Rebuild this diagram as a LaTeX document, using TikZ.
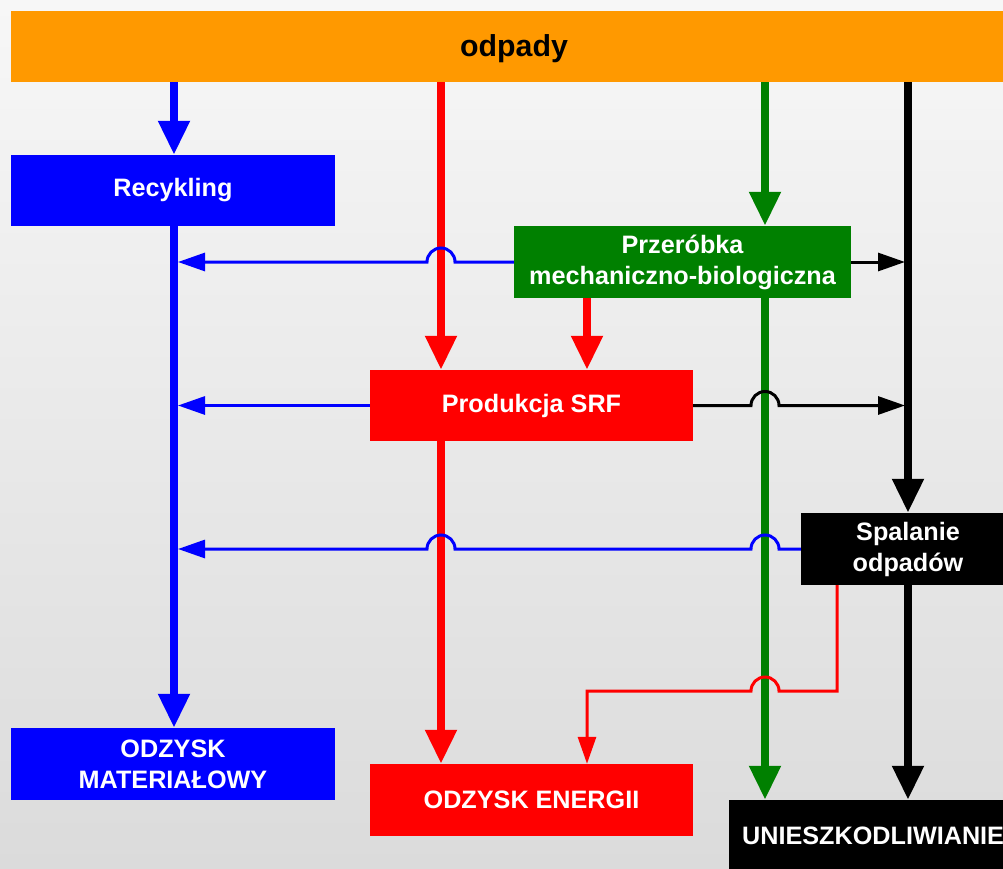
\documentclass[tikz,border=0pt]{standalone}
\usepackage{fontspec}
\setmainfont{Liberation Sans}
\usetikzlibrary{arrows.meta}
\definecolor{corange}{HTML}{FF9900}
\definecolor{cblue}{HTML}{0000FF}
\definecolor{cred}{HTML}{FF0000}
\definecolor{cgreen}{HTML}{008000}
\definecolor{bgtop}{HTML}{F7F7F7}
\definecolor{bgbot}{HTML}{DBDBDB}
\begin{document}
\begin{tikzpicture}[x=1pt,y=-1pt,
  box/.style={rectangle, inner sep=0pt, text=white, font=\fontsize{25.2}{31}\selectfont\bfseries, align=center},
  fat/.style={line width=8pt, -{Triangle[length=34pt,width=30pt]}},
  thinarr/.style={line width=3pt, -{Triangle[length=27pt,width=18pt]}}]
\useasboundingbox (0,0) rectangle (1003,869);
\shade[top color=bgtop, bottom color=bgbot] (0,0) rectangle (1003,869);
\begin{scope}
\clip (0,0) rectangle (1003,869);
% coordinates
\coordinate (xB) at (174,0);
\coordinate (bB) at (178,0);
\coordinate (xR) at (441,0);
\coordinate (xR2) at (587,0);
\coordinate (xG) at (765,0);
\coordinate (xK) at (908,0);
\coordinate (bK) at (905,0);
\coordinate (xS) at (837,0);
\coordinate (yH) at (0,691);
% nodes
\node[box, fill=corange, minimum width=1006, minimum height=71] (odp) at (514,46.5) {};
\node[text=black, font=\fontsize{30.3}{34}\selectfont\bfseries, inner sep=0pt] (odpt) at (514,48.5) {odpady};
\node[box, fill=cblue, minimum width=324, minimum height=71] (rec) at (173,190.5) {Recykling};
\node[box, fill=cblue, minimum width=324, minimum height=72] (om) at (173,764) {ODZYSK\\MATERIAŁOWY};
\node[box, fill=cgreen, minimum width=337, minimum height=72] (prz) at (682.5,262) {Przeróbka\\mechaniczno-biologiczna};
\node[box, fill=cred, minimum width=323, minimum height=71] (prod) at (531.5,405.5) {Produkcja SRF};
\node[box, fill=cred, minimum width=323, minimum height=72] (oe) at (531.5,800) {ODZYSK ENERGII};
\node[box, fill=black, minimum width=214, minimum height=72] (sp) at (908,549) {Spalanie\\odpadów};
\node[box, fill=black, anchor=west, text width=274, inner xsep=13pt, align=left, minimum height=72] (un) at (729,836) {UNIESZKODLIWIANIE};
% thick arrows
\draw[fat, cblue] (odp.south -| xB) -- (rec.north -| xB);
\draw[fat, cblue] (rec.south -| xB) -- (om.north -| xB);
\draw[fat, cred] (odp.south -| xR) -- (prod.north -| xR);
\draw[fat, cred] (prod.south -| xR) -- (oe.north -| xR);
\draw[fat, cred] (prz.south -| xR2) -- (prod.north -| xR2);
\draw[fat, cgreen] (odp.south -| xG) -- (prz.north -| xG);
\draw[fat, cgreen] (prz.south -| xG) -- (un.north -| xG);
\draw[fat, black] (odp.south -| xK) -- (sp.north -| xK);
\draw[fat, black] (sp.south -| xK) -- (un.north -| xK);
% thin arrows
\draw[thinarr, cblue] (prz.west) -- ([xshift=14pt]prz.west -| xR) arc[start angle=0, end angle=-180, radius=14] -- (prz.west -| bB);
\draw[thinarr, black] (prz.east) -- (prz.east -| bK);
\draw[thinarr, cblue] (prod.west) -- (prod.west -| bB);
\draw[thinarr, black] (prod.east) -- ([xshift=-14pt]prod.east -| xG) arc[start angle=180, end angle=360, radius=14] -- (prod.east -| bK);
\draw[thinarr, cblue] (sp.west) -- ([xshift=14pt]sp.west -| xG) arc[start angle=0, end angle=-180, radius=14] -- ([xshift=14pt]sp.west -| xR) arc[start angle=0, end angle=-180, radius=14] -- (sp.west -| bB);
\draw[thinarr, cred] (sp.south -| xS) -- (yH -| xS) -- ([xshift=14pt]yH -| xG) arc[start angle=0, end angle=-180, radius=14] -- (yH -| xR2) -- (oe.north -| xR2);
\end{scope}
\end{tikzpicture}
\end{document}
